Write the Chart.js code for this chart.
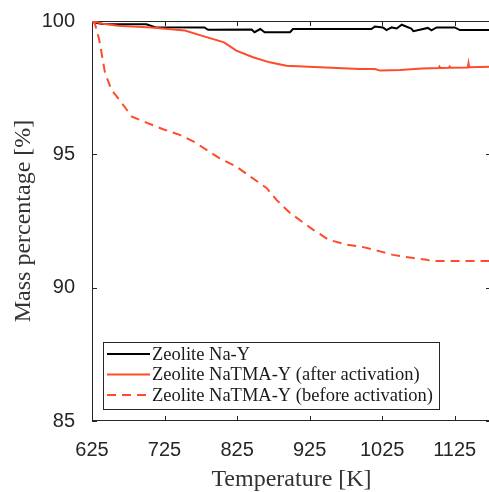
<!DOCTYPE html>
<html>
<head>
<meta charset="utf-8">
<script src="https://cdn.jsdelivr.net/npm/chart.js@4.4.1/dist/chart.umd.min.js"></script>
<style>
  html, body { margin: 0; padding: 0; background: #fff; overflow: hidden; }
  #wrap { width: 492px; height: 492px; }
</style>
</head>
<body>
<div id="wrap"><canvas id="tgaChart" width="492" height="492"></canvas></div>
<script>
// Zeolite Na-Y
const naYTemp = [625, 630, 640, 700, 712, 780, 785, 845, 849, 857, 863, 898, 902, 1010, 1015, 1026, 1031, 1038, 1045, 1052, 1065, 1068, 1088, 1093, 1100, 1125, 1132, 1175];
const naYMass = [100, 99.93, 99.89, 99.88, 99.77, 99.76, 99.67, 99.68, 99.58, 99.70, 99.58, 99.58, 99.70, 99.70, 99.79, 99.76, 99.66, 99.76, 99.72, 99.86, 99.72, 99.62, 99.74, 99.65, 99.76, 99.76, 99.66, 99.66];

// Zeolite NaTMA-Y (after activation)
const afterTemp = [625, 640, 661, 707, 753, 776, 807, 824, 847, 870, 893, 939, 994, 1015, 1022, 1050, 1080, 1103, 1104, 1105, 1117, 1118, 1119, 1143, 1144, 1145, 1175];
const afterMass = [100, 99.9, 99.82, 99.76, 99.64, 99.45, 99.2, 98.89, 98.64, 98.45, 98.32, 98.27, 98.2, 98.2, 98.14, 98.16, 98.22, 98.24, 98.29, 98.24, 98.25, 98.29, 98.25, 98.26, 98.42, 98.27, 98.28];

// Zeolite NaTMA-Y (before activation)
const beforeTemp = [625, 629, 635, 643, 652, 664, 680, 700, 723, 746, 765, 801, 824, 843, 866, 879, 898, 930, 951, 976, 999, 1022, 1040, 1068, 1086, 1092, 1175];
const beforeMass = [100, 99.9, 99.29, 98.05, 97.41, 97.0, 96.41, 96.19, 95.94, 95.73, 95.48, 94.85, 94.54, 94.17, 93.73, 93.3, 92.8, 92.17, 91.8, 91.61, 91.52, 91.36, 91.23, 91.11, 91.05, 91.0, 91.0];

const xTicks = [625, 725, 825, 925, 1025, 1125];
const yTicks = [85, 90, 95, 100];

const RED = '#ff4a2b';
const AXIS = '#262626';

const toPoints = (xs, ys) => xs.map((x, i) => ({ x: x, y: ys[i] }));

// MATLAB-like box with inward ticks, drawn under the lines
const boxAxes = {
    id: 'boxAxes',
    beforeDatasetsDraw(chart) {
        const { ctx, chartArea: a, scales } = chart;
        const len = 5;
        ctx.save();
        ctx.strokeStyle = AXIS;
        ctx.lineWidth = 1;
        ctx.strokeRect(a.left + 0.5, a.top + 0.5, a.right - a.left - 1, a.bottom - a.top - 1);
        ctx.beginPath();
        xTicks.forEach(v => {
            const px = Math.round(scales.x.getPixelForValue(v)) + 0.5;
            ctx.moveTo(px, a.bottom); ctx.lineTo(px, a.bottom - len);
            ctx.moveTo(px, a.top); ctx.lineTo(px, a.top + len);
        });
        yTicks.forEach(v => {
            const py = Math.round(scales.y.getPixelForValue(v)) + 0.5;
            ctx.moveTo(a.left, py); ctx.lineTo(a.left + len, py);
            ctx.moveTo(a.right, py); ctx.lineTo(a.right - len, py);
        });
        ctx.stroke();
        ctx.restore();
    }
};

// legend box in the lower part of the axes
const boxLegend = {
    id: 'boxLegend',
    afterDraw(chart) {
        const { ctx, chartArea: a } = chart;
        const x0 = a.left + 11, y0 = a.bottom - 79, w = 336, h = 67;
        ctx.save();
        ctx.fillStyle = '#fff';
        ctx.fillRect(x0, y0, w, h);
        ctx.strokeStyle = AXIS;
        ctx.lineWidth = 1;
        ctx.strokeRect(x0 + 0.5, y0 + 0.5, w, h);
        ctx.font = '18.5px "Liberation Serif", serif';
        ctx.textBaseline = 'middle';
        ctx.fillStyle = '#1a1a1a';
        chart.data.datasets.forEach((ds, i) => {
            const ry = y0 + 12 + i * 20.5;
            ctx.strokeStyle = ds.borderColor;
            ctx.lineWidth = ds.borderWidth;
            ctx.setLineDash(ds.borderDash || []);
            ctx.beginPath();
            ctx.moveTo(x0 + 4, ry);
            ctx.lineTo(x0 + 47, ry);
            ctx.stroke();
            ctx.setLineDash([]);
            ctx.fillText(ds.label, x0 + 49, ry + 1);
        });
        ctx.restore();
    }
};

const ctx = document.getElementById('tgaChart').getContext('2d');
new Chart(ctx, {
    type: 'line',
    data: {
        datasets: [
            {
                label: 'Zeolite Na-Y',
                data: toPoints(naYTemp, naYMass),
                borderColor: '#000',
                borderWidth: 2,
                pointRadius: 0,
                tension: 0,
                order: 3
            },
            {
                label: 'Zeolite NaTMA-Y (after activation)',
                data: toPoints(afterTemp, afterMass),
                borderColor: RED,
                borderWidth: 2,
                pointRadius: 0,
                tension: 0,
                order: 2
            },
            {
                label: 'Zeolite NaTMA-Y (before activation)',
                data: toPoints(beforeTemp, beforeMass),
                borderColor: RED,
                borderWidth: 2,
                borderDash: [9, 6],
                pointRadius: 0,
                tension: 0,
                order: 1
            }
        ]
    },
    options: {
        responsive: false,
        animation: false,
        layout: { padding: { top: 21, right: 1, left: 0, bottom: 0 } },
        plugins: { legend: { display: false }, tooltip: { enabled: false } },
        scales: {
            x: {
                type: 'linear',
                min: 625,
                max: 1175,
                afterBuildTicks: (s) => { s.ticks = xTicks.map(v => ({ value: v })); },
                afterFit: (s) => { s.height = 71; },
                grid: { display: false },
                border: { display: false },
                ticks: {
                    color: AXIS,
                    padding: 9,
                    maxRotation: 0,
                    callback: (v) => String(v),
                    font: { family: '"Liberation Sans", Arial, sans-serif', size: 20 }
                },
                title: {
                    display: true,
                    text: 'Temperature [K]',
                    color: '#333',
                    padding: { top: 0, bottom: 0 },
                    font: { family: '"Liberation Serif", serif', size: 24, lineHeight: 1 }
                }
            },
            y: {
                type: 'linear',
                min: 85,
                max: 100,
                afterBuildTicks: (s) => { s.ticks = yTicks.map(v => ({ value: v })); },
                afterFit: (s) => { s.width = 92; },
                grid: { display: false },
                border: { display: false },
                ticks: {
                    color: AXIS,
                    padding: 9,
                    callback: (v) => String(v),
                    font: { family: '"Liberation Sans", Arial, sans-serif', size: 20 }
                },
                title: {
                    display: true,
                    text: 'Mass percentage [%]',
                    color: '#333',
                    padding: { top: 9, bottom: 0 },
                    font: { family: '"Liberation Serif", serif', size: 24, lineHeight: 1.2 }
                }
            }
        }
    },
    plugins: [boxAxes, boxLegend]
});
</script>
</body>
</html>
